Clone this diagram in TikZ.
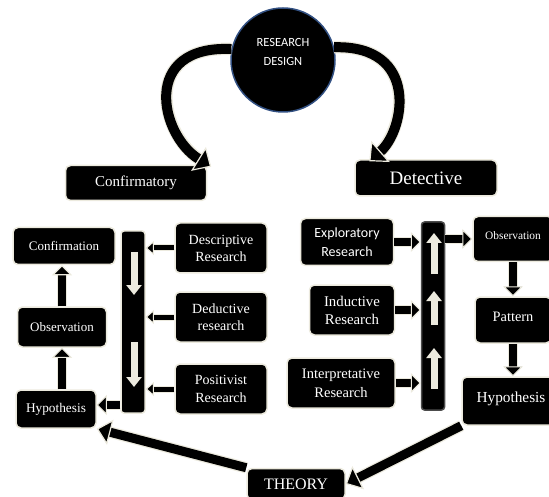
\documentclass[tikz,border=0pt]{standalone}
\usepackage{fontspec}
\setmainfont{Liberation Serif}
\newfontfamily\calib{Carlito}
\usetikzlibrary{arrows.meta,positioning,calc}
\definecolor{cream}{RGB}{236,234,222}
\definecolor{rim}{RGB}{50,80,130}

\begin{document}
\begin{tikzpicture}[x=1pt, y=-1pt,
    box/.style={rectangle, draw=cream, line width=1.5pt, fill=black, rounded corners=5pt, text=white, align=center, inner sep=2pt},
    bar/.style={rectangle, draw=cream, line width=1.5pt, fill=black, rounded corners=3pt, minimum width=24pt},
    arrow/.style={line width=7.5pt, -{Triangle[length=10pt,width=20pt,fill=black,color=cream,line width=1pt]},
        preaction={draw=cream, line width=9.5pt, arrows=-, shorten >=9pt}},
    thinarrow/.style={line width=5pt, -{Triangle[length=8pt,width=14pt,fill=black,color=cream,line width=1pt]},
        preaction={draw=cream, line width=7pt, arrows=-, shorten >=7pt}},
    bigarrow/.style={line width=9pt, -{Triangle[length=14pt,width=26pt,fill=black,color=cream,line width=1.2pt]},
        preaction={draw=cream, line width=11.5pt, arrows=-, shorten >=12pt}},
    curvarrow/.style={line width=10pt, -{Triangle[length=15pt,width=28pt,fill=black,color=cream,line width=1.2pt]},
        preaction={draw=cream, line width=12.5pt, arrows=-, shorten >=13pt}},
    warrow/.style={draw=cream, line width=7pt, -{Triangle[length=10pt,width=15pt,fill=cream]}}
]
\path[use as bounding box, clip] (0,0) rectangle (549,497);

% top
\node[circle, draw=rim, line width=1.5pt, fill=black, minimum size=104pt,
    label={[yshift=8pt, text=white, align=center, font=\calib\fontsize{12.5}{19}\selectfont]center:RESEARCH\\DESIGN}] (design) at (283,60) {};
\node[box, minimum width=141pt, minimum height=35pt, font=\fontsize{15}{17}\selectfont] (conf) at (136,183) {Confirmatory};
\node[box, minimum width=142pt, minimum height=36pt, font=\fontsize{19}{21}\selectfont] (det) at (426,178) {Detective};

% confirmatory side
\node[box, minimum width=102pt, minimum height=37pt, font=\fontsize{13}{15}\selectfont] (confirm) at (64,246) {Confirmation};
\node[box, minimum width=89pt, minimum height=40pt, font=\fontsize{13}{15}\selectfont] (obsL) at (62,327) {Observation};
\node[box, minimum width=80pt, minimum height=38pt, font=\fontsize{13.3}{15}\selectfont] (hypL) at (56,409) {Hypothesis};
\node[bar, minimum height=182pt] (barL) at (133,322) {};
\node[box, minimum width=92pt, minimum height=50pt, font=\fontsize{14}{17}\selectfont] (desc) at (221,248) {Descriptive\\Research};
\node[box, minimum width=92pt, minimum height=50pt, font=\fontsize{14}{17}\selectfont] (dedu) at (221,317) {Deductive\\research};
\node[box, minimum width=92pt, minimum height=50pt, font=\fontsize{14}{18}\selectfont] (posi) at (221,389) {Positivist\\Research};

% detective side
\node[box, minimum width=93pt, minimum height=47pt, font=\calib\fontsize{14}{19}\selectfont] (expl) at (347,242) {Exploratory\\Research};
\node[box, minimum width=85pt, minimum height=50pt, font=\fontsize{14.8}{18}\selectfont] (indu) at (352,310) {Inductive\\Research};
\node[box, minimum width=108pt, minimum height=50pt, font=\fontsize{14.5}{19}\selectfont] (intp) at (341,383) {Interpretative\\Research};
\node[bar, draw=gray!60!black, minimum width=23pt, minimum height=188pt] (barR) at (433,316) {};
\node[box, minimum width=80pt, minimum height=45pt, font=\fontsize{11.4}{13}\selectfont] (obsR) at (513,239) {\raisebox{6pt}{Observation}};
\node[box, minimum width=76pt, minimum height=46pt, font=\fontsize{14.4}{16}\selectfont] (pattern) at (513,320) {\raisebox{6pt}{Pattern}};
\node[box, minimum width=98pt, minimum height=48pt, font=\fontsize{15.3}{17}\selectfont] (hypR) at (511,401) {\raisebox{7pt}{Hypothesis}};

\node[box, minimum width=98pt, minimum height=31pt, font=\fontsize{16}{18}\selectfont] (theory) at (296,484) {THEORY};

% curved arrows from the design
\draw[curvarrow] (design.168) .. controls (140,45) and (160,135) .. ($(conf.north east)+(4,2)$);
\draw[curvarrow] (design.14) .. controls (420,45) and (405,130) .. ($(det.north west)+(15,2)$);

% left chain
\draw[arrow] (obsL.north) -- (obsL.north |- confirm.south);
\draw[arrow] (hypL.north -| obsL.north) -- (obsL.south);
\draw[thinarrow] (desc.west) -- (desc.west -| barL.east);
\draw[thinarrow] (dedu.west) -- (dedu.west -| barL.east);
\draw[thinarrow] (posi.west) -- (posi.west -| barL.east);
\draw[arrow] ($(hypL.east -| barL.west)+(0,-4)$) -- ($(hypL.east)+(0,-4)$);

% right chain
\draw[arrow] (expl.east) -- (expl.east -| barR.west);
\draw[arrow] (indu.east) -- (indu.east -| barR.west);
\draw[arrow] (intp.east) -- (intp.east -| barR.west);
\draw[arrow] (barR.east |- obsR.west) -- (obsR.west);
\draw[arrow] (obsR.south) -- (pattern.north);
\draw[arrow] (pattern.south) -- (pattern.south |- hypR.north);

% white arrows inside the bars
\coordinate (l1) at (134,252); \coordinate (l2) at (134,295);
\coordinate (l3) at (134,342); \coordinate (l4) at (134,387);
\draw[warrow] (l1) -- (l2);
\draw[warrow] (l3) -- (l4);
\coordinate (r1) at (434,274); \coordinate (r2) at (434,233);
\coordinate (r3) at (434,325); \coordinate (r4) at (434,291);
\coordinate (r5) at (434,389); \coordinate (r6) at (434,348);
\draw[warrow] (r1) -- (r2);
\draw[warrow] (r3) -- (r4);
\draw[warrow] (r5) -- (r6);

% theory
\draw[bigarrow] (theory.north west) -- (hypL.south east);
\draw[bigarrow] (hypR.south west) -- (theory.east);

\end{tikzpicture}
\end{document}
